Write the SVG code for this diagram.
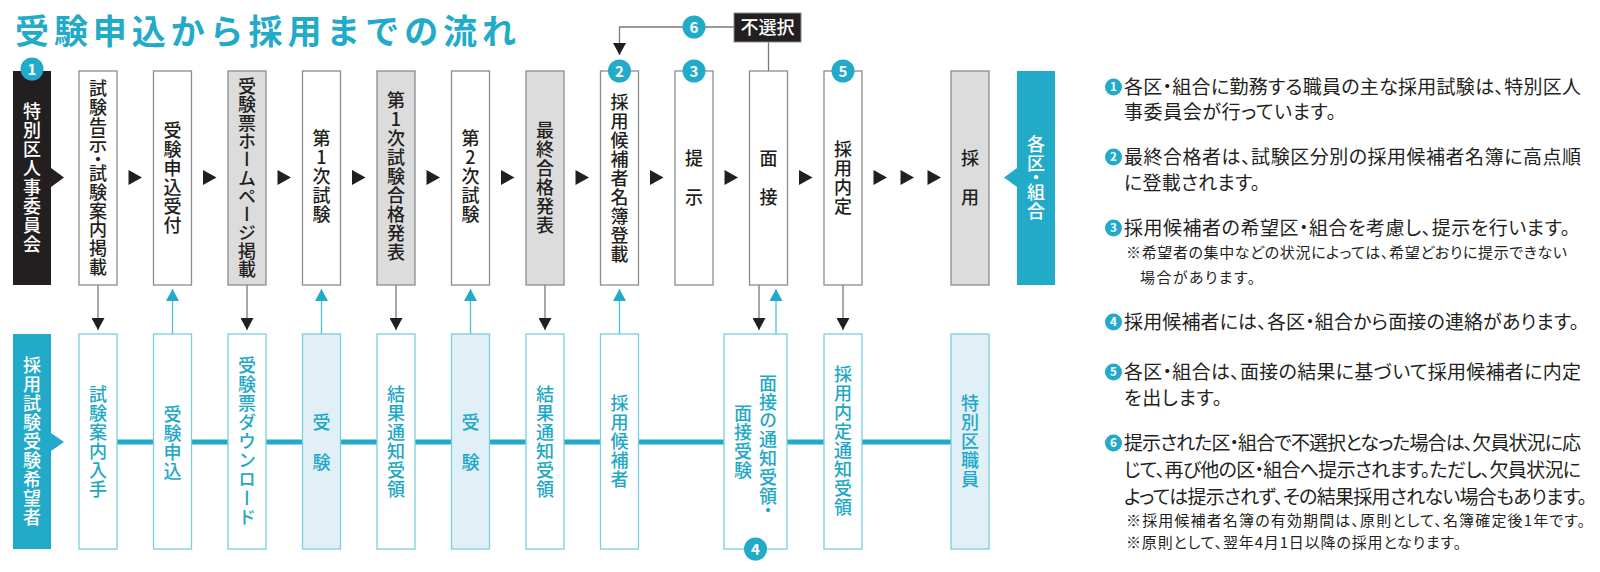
<svg xmlns="http://www.w3.org/2000/svg" width="1600" height="572" viewBox="0 0 1600 572">
<defs>
<style>
text{font-family:"Noto Sans CJK JP","Noto Sans",sans-serif}
.v{writing-mode:vertical-rl;text-orientation:upright;font-size:18px;text-anchor:middle;letter-spacing:1px;font-weight:500}
.vp{font-feature-settings:"vpal"}
.k{fill:#231f20}.w{fill:#fff}.b{fill:#1fa8c7}
.bw{fill:#fff;stroke:#8c8c8c;stroke-width:1.3}
.bg{fill:#dcdcdd;stroke:#8c8c8c;stroke-width:1.3}
.ct{fill:#fff;stroke:#7ccce0;stroke-width:1.3}
.cl{fill:#e1f0f7;stroke:#7ccce0;stroke-width:1.3}
.dk{fill:#231f20}
.gl{fill:none;stroke:#7a7a7a;stroke-width:1.3}
.tln{fill:none;stroke:#4fbfd8;stroke-width:1.3}
.bd{fill:#fff;font-size:15px;font-weight:700;text-anchor:middle}
.sb{fill:#fff;font-size:11.5px;font-weight:700;text-anchor:middle}
.n{fill:#231f20;font-size:19px;font-feature-settings:"palt"}
.s{fill:#231f20;font-size:15px;font-feature-settings:"palt"}
</style>
<marker id="ad" viewBox="0 0 12 13" refX="12" refY="6.5" markerWidth="12" markerHeight="13" markerUnits="userSpaceOnUse" orient="auto"><path d="M0,0L12,6.5L0,13z" fill="#231f20"/></marker>
<marker id="au" viewBox="0 0 12 13" refX="12" refY="6.5" markerWidth="12" markerHeight="13" markerUnits="userSpaceOnUse" orient="auto"><path d="M0,0L12,6.5L0,13z" fill="#22abc9"/></marker>
</defs>
<rect width="1600" height="572" fill="#fff"/>
<text id="title" x="15" y="44" font-size="34" font-weight="700" fill="#22abc9" textLength="501" lengthAdjust="spacing">受験申込から採用までの流れ</text>

<g id="connectors">
<path d="M117,442H951" fill="none" stroke="#22abc9" stroke-width="5"/>
<g class="dk">
<polygon points="128.5,170 142,177.5 128.5,185"/>
<polygon points="203,170 216.5,177.5 203,185"/>
<polygon points="277.5,170 291,177.5 277.5,185"/>
<polygon points="352,170 365.5,177.5 352,185"/>
<polygon points="426.5,170 440,177.5 426.5,185"/>
<polygon points="501,170 514.5,177.5 501,185"/>
<polygon points="575.5,170 589,177.5 575.5,185"/>
<polygon points="650,170 663.5,177.5 650,185"/>
<polygon points="724.5,170 738,177.5 724.5,185"/>
<polygon points="799,170 812.5,177.5 799,185"/>
<polygon points="873.5,170 887,177.5 873.5,185"/>
<polygon points="900.5,170 914,177.5 900.5,185"/>
<polygon points="927.5,170 941,177.5 927.5,185"/>
</g>
<path class="gl" d="M98,285V330" marker-end="url(#ad)"/>
<path class="gl" d="M247,285V330" marker-end="url(#ad)"/>
<path class="gl" d="M396,285V330" marker-end="url(#ad)"/>
<path class="gl" d="M545,285V330" marker-end="url(#ad)"/>
<path class="gl" d="M759,285V330" marker-end="url(#ad)"/>
<path class="gl" d="M843,285V330" marker-end="url(#ad)"/>
<path class="tln" d="M172.5,334V289" marker-end="url(#au)"/>
<path class="tln" d="M321.5,334V289" marker-end="url(#au)"/>
<path class="tln" d="M470.5,334V289" marker-end="url(#au)"/>
<path class="tln" d="M619.5,334V289" marker-end="url(#au)"/>
<path class="tln" d="M776,334V289" marker-end="url(#au)"/>
<path class="gl" d="M734,27H619.5V55" marker-end="url(#ad)"/>
<path class="gl" d="M768.5,42V71"/>
</g>

<g id="n-iinkai"><path d="M13,71H51V168L64,177.5L51,187V285H13Z" fill="#231f20"/><text class="v w" x="32" y="178">特別区人事委員会</text></g>
<g id="n-kokuji"><rect class="bw" x="79" y="71" width="38" height="214"/><text class="v k vp" x="98" y="178" style="letter-spacing:0.8px">試験告示・試験案内掲載</text></g>
<g id="n-uketsuke"><rect class="bw" x="153.5" y="71" width="38" height="214"/><text class="v k" x="172.5" y="178">受験申込受付</text></g>
<g id="n-hyoukeisai"><rect class="bg" x="228" y="71" width="38" height="214"/><text class="v k" x="247" y="178" style="letter-spacing:0.3px">受験票ホームページ掲載</text></g>
<g id="n-shiken1"><rect class="bw" x="302.5" y="71" width="38" height="214"/><text class="v k" x="321.5" y="177">第1次試験</text></g>
<g id="n-gokaku1"><rect class="bg" x="377" y="71" width="38" height="214"/><text class="v k" x="396" y="177">第1次試験合格発表</text></g>
<g id="n-shiken2"><rect class="bw" x="451.5" y="71" width="38" height="214"/><text class="v k" x="470.5" y="177">第2次試験</text></g>
<g id="n-saishu"><rect class="bg" x="526" y="71" width="38" height="214"/><text class="v k" x="545" y="178">最終合格発表</text></g>
<g id="n-meibo"><rect class="bw" x="600.5" y="71" width="38" height="214"/><text class="v k" x="619.5" y="179">採用候補者名簿登載</text></g>
<g id="n-teiji"><rect class="bw" x="675" y="71" width="38" height="214"/><text class="v k" x="694" y="149" style="text-anchor:start;letter-spacing:21px">提示</text></g>
<g id="n-mensetsu"><rect class="bw" x="749.5" y="71" width="38" height="214"/><text class="v k" x="768.5" y="149" style="text-anchor:start;letter-spacing:21px">面接</text></g>
<g id="n-naitei"><rect class="bw" x="824" y="71" width="38" height="214"/><text class="v k" x="843" y="178">採用内定</text></g>
<g id="n-saiyo"><rect class="bg" x="951" y="71" width="38" height="214"/><text class="v k" x="970" y="149" style="text-anchor:start;letter-spacing:21px">採用</text></g>
<g id="n-kukumiai"><path d="M1017,71H1055V285H1017V187L1004,177.5L1017,168Z" fill="#22abc9"/><text class="v w vp" x="1036" y="178" font-weight="700">各区・組合</text></g>
<g id="n-fusentaku"><rect x="734" y="13" width="67" height="29" fill="#231f20" stroke="#8c8c8c" stroke-width="1"/><text x="767.5" y="34" font-size="18" font-weight="500" fill="#fff" text-anchor="middle">不選択</text></g>

<g id="n-kibousha"><path d="M13,334H51V433L64,442L51,451V549H13Z" fill="#22abc9"/><text class="v w" x="32" y="442">採用試験受験希望者</text></g>
<g id="n-annai"><rect class="ct" x="79" y="334" width="38" height="215"/><text class="v b" x="98" y="442">試験案内入手</text></g>
<g id="n-moushikomi"><rect class="ct" x="153.5" y="334" width="38" height="215"/><text class="v b" x="172.5" y="443">受験申込</text></g>
<g id="n-dl"><rect class="ct" x="228" y="334" width="38" height="215"/><text class="v b" x="247" y="442">受験票ダウンロード</text></g>
<g id="n-juken1"><rect class="cl" x="302.5" y="334" width="38" height="215"/><text class="v b" x="321.5" y="413" style="text-anchor:start;letter-spacing:22px">受験</text></g>
<g id="n-kekka1"><rect class="ct" x="377" y="334" width="38" height="215"/><text class="v b" x="396" y="442">結果通知受領</text></g>
<g id="n-juken2"><rect class="cl" x="451.5" y="334" width="38" height="215"/><text class="v b" x="470.5" y="413" style="text-anchor:start;letter-spacing:22px">受験</text></g>
<g id="n-kekka2"><rect class="ct" x="526" y="334" width="38" height="215"/><text class="v b" x="545" y="442">結果通知受領</text></g>
<g id="n-kouho"><rect class="ct" x="600.5" y="334" width="38" height="215"/><text class="v b" x="619.5" y="442">採用候補者</text></g>
<g id="n-mensetsujuken"><rect class="ct" x="724" y="334" width="63" height="215"/><text class="v b vp" x="768" y="445">面接の通知受領・</text><text class="v b" x="743" y="442">面接受験</text></g>
<g id="n-naiteitsuchi"><rect class="ct" x="824" y="334" width="38" height="215"/><text class="v b" x="843" y="441">採用内定通知受領</text></g>
<g id="n-shokuin"><rect class="cl" x="951" y="334" width="38" height="215"/><text class="v b" x="970" y="442">特別区職員</text></g>

<g id="badges">
<circle cx="32" cy="69" r="11.5" fill="#22abc9"/><text class="bd" x="32" y="74.5">1</text>
<circle cx="619.5" cy="71" r="11.5" fill="#22abc9"/><text class="bd" x="619.5" y="76.5">2</text>
<circle cx="694" cy="71" r="11.5" fill="#22abc9"/><text class="bd" x="694" y="76.5">3</text>
<circle cx="755.5" cy="549" r="11.5" fill="#22abc9"/><text class="bd" x="755.5" y="554.5">4</text>
<circle cx="843" cy="71" r="11.5" fill="#22abc9"/><text class="bd" x="843" y="76.5">5</text>
<circle cx="694" cy="27" r="11.5" fill="#22abc9"/><text class="bd" x="694" y="32.5">6</text>
</g>

<g id="notes">
<circle cx="1113.5" cy="87" r="8.5" fill="#22abc9"/><text class="sb" x="1113.5" y="91.2">1</text>
<text class="n" x="1124" y="94" textLength="457" lengthAdjust="spacing">各区・組合に勤務する職員の主な採用試験は、特別区人</text>
<text class="n" x="1124" y="118.5" textLength="212" lengthAdjust="spacing">事委員会が行っています。</text>
<circle cx="1113.5" cy="157" r="8.5" fill="#22abc9"/><text class="sb" x="1113.5" y="161.2">2</text>
<text class="n" x="1124" y="163.5" textLength="457" lengthAdjust="spacing">最終合格者は、試験区分別の採用候補者名簿に高点順</text>
<text class="n" x="1124" y="190" textLength="136" lengthAdjust="spacing">に登載されます。</text>
<circle cx="1113.5" cy="228" r="8.5" fill="#22abc9"/><text class="sb" x="1113.5" y="232.2">3</text>
<text class="n" x="1124" y="235" textLength="446" lengthAdjust="spacing">採用候補者の希望区・組合を考慮し、提示を行います。</text>
<text class="s" x="1126" y="257.5" textLength="441" lengthAdjust="spacing">※希望者の集中などの状況によっては、希望どおりに提示できない</text>
<text class="s" x="1140" y="282.5" textLength="115" lengthAdjust="spacing">場合があります。</text>
<circle cx="1113.5" cy="322" r="8.5" fill="#22abc9"/><text class="sb" x="1113.5" y="326.2">4</text>
<text class="n" x="1124" y="328.5" textLength="455" lengthAdjust="spacing">採用候補者には、各区・組合から面接の連絡があります。</text>
<circle cx="1113.5" cy="372" r="8.5" fill="#22abc9"/><text class="sb" x="1113.5" y="376.2">5</text>
<text class="n" x="1124" y="378.5" textLength="457" lengthAdjust="spacing">各区・組合は、面接の結果に基づいて採用候補者に内定</text>
<text class="n" x="1124" y="405" textLength="98" lengthAdjust="spacing">を出します。</text>
<circle cx="1113.5" cy="443" r="8.5" fill="#22abc9"/><text class="sb" x="1113.5" y="447.2">6</text>
<text class="n" x="1124" y="450" textLength="457" lengthAdjust="spacing">提示された区・組合で不選択となった場合は、欠員状況に応</text>
<text class="n" x="1124" y="477" textLength="457" lengthAdjust="spacing">じて、再び他の区・組合へ提示されます。ただし、欠員状況に</text>
<text class="n" x="1124" y="503.5" textLength="463" lengthAdjust="spacing">よっては提示されず、その結果採用されない場合もあります。</text>
<text class="s" x="1126" y="526" textLength="459" lengthAdjust="spacing">※採用候補者名簿の有効期間は、原則として、名簿確定後1年です。</text>
<text class="s" x="1126" y="547.5" textLength="335" lengthAdjust="spacing">※原則として、翌年4月1日以降の採用となります。</text>
</g>
</svg>
